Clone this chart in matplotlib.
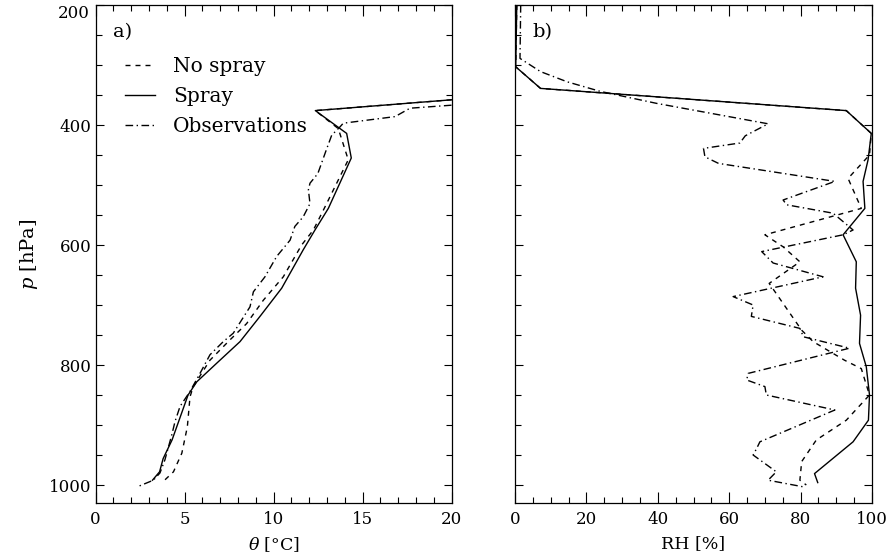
import matplotlib
matplotlib.use("Agg")
import matplotlib.pyplot as plt
from matplotlib.ticker import MultipleLocator, FixedLocator
from matplotlib.transforms import blended_transform_factory

plt.rcParams["font.family"] = ["DejaVu Serif"]
plt.rcParams["mathtext.fontset"] = "dejavuserif"

# ---- a) potential temperature profiles ----
p_nospray_a = [358, 376, 406, 458, 542, 575, 600, 653, 692, 731, 758, 792, 836, 853, 903, 947, 978, 994]
th_nospray = [20.0, 12.35, 13.64, 14.2, 12.8, 12.24, 11.58, 10.55, 9.43, 8.49, 7.56, 6.43, 5.49, 5.31, 5.16, 4.85, 4.38, 3.81]

p_spray_a = [358, 376, 414, 455, 539, 575, 608, 672, 719, 761, 797, 828, 850, 925, 956, 978, 992]
th_spray = [20.0, 12.35, 14.11, 14.37, 13.08, 12.33, 11.67, 10.46, 9.24, 8.12, 6.81, 5.69, 5.2, 4.3, 3.8, 3.6, 3.2]

p_obs_a = [367, 372, 386, 397, 403, 417, 442, 481, 497, 508, 531, 553, 569, 592, 619, 653, 678,
           703, 747, 761, 783, 814, 844, 869, 894, 917, 958, 980, 992, 1003]
th_obs = [20.0, 17.67, 16.83, 13.92, 13.74, 13.27, 12.96, 12.49, 12.05, 11.96, 12.05, 11.67, 11.2,
          10.93, 10.18, 9.52, 8.87, 8.68, 7.74, 7.18, 6.43, 5.87, 5.31, 4.75, 4.47, 4.28, 3.9, 3.62, 3.25, 2.35]

# ---- b) relative humidity profiles ----
p_nospray_b = [200, 303, 339, 376, 414, 450, 489, 539, 583, 603, 628, 664, 742, 761, 792, 806, 850,
               892, 925, 961, 992, 1000]
rh_nospray = [0.5, 0.2, 7.15, 92.8, 99.8, 99.3, 93.3, 97.0, 70.0, 75.1, 79.8, 71.2, 80.3, 83.5, 92.3,
              97.0, 99.3, 92.8, 84.4, 80.3, 79.8, 81.6]

p_spray_b = [200, 303, 339, 376, 414, 458, 494, 539, 583, 628, 672, 717, 764, 803, 850, 892, 928, 981, 996]
rh_spray = [0.5, 0.2, 7.15, 92.8, 99.8, 98.9, 97.5, 98.0, 91.9, 95.6, 95.4, 96.8, 96.5, 98.4, 99.3,
            99.0, 94.7, 83.9, 84.8]

p_obs_b = [200, 289, 311, 328, 344, 364, 398, 418, 430, 439, 453, 464, 494, 525, 533, 547, 575, 583,
           611, 630, 653, 686, 700, 719, 739, 753, 772, 814, 825, 836, 850, 875, 928, 939, 950, 978,
           992, 1003]
rh_obs = [1.6, 1.4, 7.15, 14.6, 23.9, 39.7, 70.9, 64.5, 63.0, 52.8, 53.2, 57.0, 89.6, 75.1, 76.1,
          89.1, 94.7, 91.9, 69.1, 72.3, 86.3, 61.1, 66.7, 66.2, 79.8, 80.8, 93.7, 65.3, 64.9, 70.0,
          70.4, 89.6, 68.6, 67.7, 66.7, 73.2, 70.9, 80.7]

labels = ["No spray", "Spray", "Observations"]

W, H = 891, 558
fig = plt.figure(figsize=(W / 100, H / 100), dpi=100)
bottom, top = 503, 5
axa = fig.add_axes([95.5 / W, 1 - bottom / H, 356 / W, (bottom - top) / H])
axb = fig.add_axes([515 / W, 1 - bottom / H, 357 / W, (bottom - top) / H])

lw = 1.0
dash = (0, (3.6, 3.6))
dashdot = (0, (5.5, 2.5, 1.0, 2.5))
styles = [dash, "-", dashdot]

for ax, prof in ((axa, [(th_nospray, p_nospray_a), (th_spray, p_spray_a), (th_obs, p_obs_a)]),
                 (axb, [(rh_nospray, p_nospray_b), (rh_spray, p_spray_b), (rh_obs, p_obs_b)])):
    for (x, p), ls, lab in zip(prof, styles, labels):
        ax.plot(x, p, color="black", lw=lw, linestyle=ls, label=lab)
    ax.set_ylim(1030, 200)
    ax.yaxis.set_major_locator(FixedLocator([200, 400, 600, 800, 1000]))
    ax.yaxis.set_minor_locator(MultipleLocator(50))
    ax.tick_params(which="both", direction="in", top=True, right=True, width=0.8,
                   labelsize=12, color="black")
    ax.tick_params(which="major", length=8, pad=6)
    ax.tick_params(which="minor", length=4)
    ax.tick_params(axis="y", which="major", length=6, pad=3)
    for s in ax.spines.values():
        s.set_linewidth(0.9)

axa.set_xlim(0, 20)
axa.xaxis.set_major_locator(MultipleLocator(5))
axa.xaxis.set_minor_locator(MultipleLocator(1))
axb.set_xlim(0, 100)
axb.xaxis.set_major_locator(MultipleLocator(20))
axb.xaxis.set_minor_locator(MultipleLocator(5))

axa.set_yticklabels(["", "400", "600", "800", "1000"])
axb.set_yticklabels([])
trans = blended_transform_factory(axa.transAxes, axa.transData)
axa.text(-0.015, 200, "200", transform=trans, ha="right", va="top", fontsize=12)

axa.set_xlabel(r"$\theta$ [°C]", fontsize=12.5, labelpad=5)
axb.set_xlabel("RH [%]", fontsize=12.5, labelpad=5)
axa.set_ylabel(r"$p$ [hPa]", fontsize=14, labelpad=6)

axa.text(0.05, 0.945, "a)", transform=axa.transAxes, fontsize=14, va="center")
axb.text(0.05, 0.945, "b)", transform=axb.transAxes, fontsize=14, va="center")

axa.legend(loc="upper left", bbox_to_anchor=(0.06, 0.912), frameon=False, fontsize=14.5,
           handlelength=1.5, handletextpad=0.9, labelspacing=0.55, borderaxespad=0)

fig.savefig("out.png", dpi=100)
